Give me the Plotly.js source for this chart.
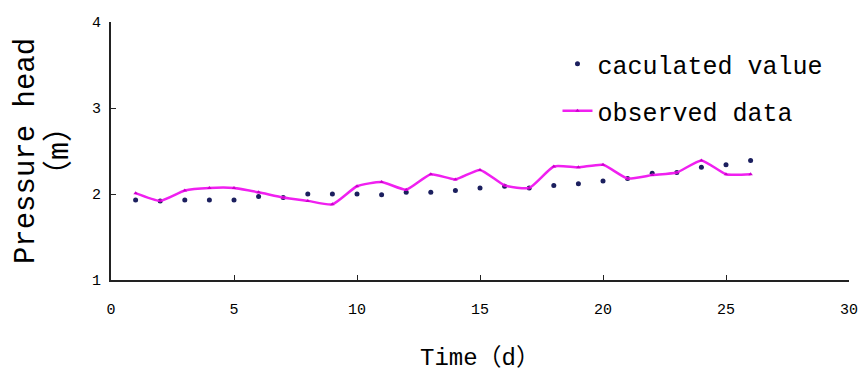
<!DOCTYPE html>
<html>
<head>
<meta charset="utf-8">
<script src="https://cdn.plot.ly/plotly-3.0.1.min.js"></script>
<style>html,body{margin:0;padding:0;background:#fff;}#chart{width:862px;height:383px;}</style>
</head>
<body>
<div id="chart"></div>
<script>
var days = [1,2,3,4,5,6,7,8,9,10,11,12,13,14,15,16,17,18,19,20,21,22,23,24,25,26];
var calculated = [1.93,1.92,1.93,1.93,1.93,1.97,1.96,2.00,2.00,2.00,1.99,2.02,2.02,2.04,2.07,2.09,2.07,2.10,2.12,2.15,2.18,2.24,2.25,2.31,2.34,2.39];
var observed = [2.01,1.92,2.04,2.07,2.07,2.02,1.96,1.92,1.88,2.09,2.14,2.05,2.23,2.17,2.28,2.10,2.07,2.32,2.31,2.34,2.18,2.22,2.25,2.39,2.23,2.23];
var xTicks = [0,5,10,15,20,25,30];
var yTicks = [1,2,3,4];

var fontFam = '"Liberation Mono", "DejaVu Sans Mono", "Noto Sans CJK SC", monospace';

var traces = [
  {
    x: days, y: calculated, name: 'caculated value', mode: 'markers', type: 'scatter',
    marker: {color: '#1b1f5e', size: 5},
    legend: 'legend'
  },
  {
    x: days, y: observed, name: 'observed data', mode: 'lines+markers', type: 'scatter',
    line: {color: '#f020f0', width: 2.5, shape: 'spline', smoothing: 0.5},
    marker: {color: '#cc00cc', size: 4, symbol: 'triangle-up'},
    legend: 'legend2'
  }
];

var layout = {
  width: 862, height: 383,
  margin: {l: 111, r: 13, t: 22, b: 103},
  paper_bgcolor: '#fff', plot_bgcolor: '#fff',
  font: {family: fontFam, color: '#000'},
  showlegend: true,
  xaxis: {
    range: [0, 30], tickvals: xTicks, ticktext: xTicks.map(String),
    showgrid: false, zeroline: false, showline: true, linecolor: '#222', linewidth: 2,
    ticks: 'inside', ticklen: 5, tickcolor: '#222', tickwidth: 1,
    tickfont: {size: 15, family: fontFam}, ticklabelstandoff: 14,
    title: {text: 'Time（d）', font: {size: 24, family: fontFam}, standoff: 30}
  },
  yaxis: {
    range: [1, 4], tickvals: yTicks, ticktext: yTicks.map(String),
    showgrid: false, zeroline: false, showline: true, linecolor: '#222', linewidth: 2,
    ticks: 'inside', ticklen: 5, tickcolor: '#222', tickwidth: 1,
    tickfont: {size: 15, family: fontFam}, ticklabelstandoff: 5,
    title: {text: '<span style="font-size:29px">Pressure head</span><br><span style="font-size:30px">（m）</span>', font: {size: 26, family: fontFam}, standoff: 16}
  },
  legend: {
    x: 0.605, y: 0.837, xanchor: 'left', yanchor: 'middle',
    bgcolor: 'rgba(0,0,0,0)', font: {size: 25, family: fontFam}
  },
  legend2: {
    x: 0.605, y: 0.655, xanchor: 'left', yanchor: 'middle',
    bgcolor: 'rgba(0,0,0,0)', font: {size: 25, family: fontFam}
  }
};

Plotly.newPlot('chart', traces, layout, {displayModeBar: false, staticPlot: true});
</script>
</body>
</html>
